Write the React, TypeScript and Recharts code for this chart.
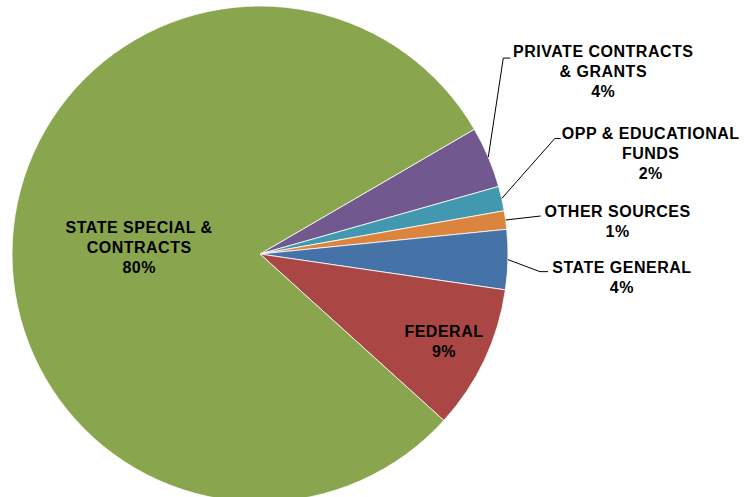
import { PieChart, Pie, Cell } from 'recharts';

const categories = [
  'PRIVATE CONTRACTS\n& GRANTS',
  'OPP & EDUCATIONAL\nFUNDS',
  'OTHER SOURCES',
  'STATE GENERAL',
  'FEDERAL',
  'STATE SPECIAL &\nCONTRACTS',
];
const shares = [4.0, 1.6, 1.2, 3.9, 9.4, 79.9];
const colors = ['#71588F', '#4198AF', '#DB843D', '#4572A7', '#AA4643', '#89A54E'];

const data = categories.map((name, i) => ({ name, value: shares[i] }));

// label placement, offsets in px from the slice's outer edge point (outside) or radius factor (inside)
const labelLayout: any[] = [
  { elbow: [15, -99], end: [22, -99], text: [115, -100] },
  { elbow: [53, -60], end: [59, -60], text: [149, -60] },
  { elbow: [35, -4], end: [35, -4], text: [112, -3] },
  { elbow: [32, 12], end: [40, 12], text: [114, 13] },
  { inside: 0.82, dy: 0 },
  { inside: 0.49, dy: 6 },
];

const RADIAN = Math.PI / 180;
const LINE_H = 20;
const textStyle = {
  fontFamily: '"Liberation Sans", Arial, sans-serif',
  fontWeight: 700,
  fontSize: 16,
  letterSpacing: 0.5,
};

const renderLabel = (props: any) => {
  const { cx, cy, midAngle, outerRadius, index, percent } = props;
  const layout = labelLayout[index];
  const lines = [...categories[index].split('\n'), `${Math.round(percent * 100)}%`];
  const cos = Math.cos(-midAngle * RADIAN);
  const sin = Math.sin(-midAngle * RADIAN);

  if (layout.inside) {
    const r = outerRadius * layout.inside;
    const x = cx + r * cos;
    const y = cy + r * sin + layout.dy;
    const first = y - ((lines.length - 1) * LINE_H) / 2 + 6;
    return (
      <text key={`l-${index}`} x={x} textAnchor="middle" fill="#000" style={textStyle}>
        {lines.map((t, i) => (
          <tspan key={i} x={x} y={first + i * LINE_H}>{t}</tspan>
        ))}
      </text>
    );
  }

  const ax = cx + outerRadius * cos;
  const ay = cy + outerRadius * sin;
  const tx = ax + layout.text[0];
  const ty = ay + layout.text[1];
  return (
    <g key={`l-${index}`}>
      <polyline
        points={`${ax},${ay} ${ax + layout.elbow[0]},${ay + layout.elbow[1]} ${ax + layout.end[0]},${ay + layout.end[1]}`}
        fill="none"
        stroke="#000"
        strokeWidth={1}
      />
      <text x={tx} textAnchor="middle" fill="#000" style={textStyle}>
        {lines.map((t, i) => (
          <tspan key={i} x={tx} y={ty + i * LINE_H}>{t}</tspan>
        ))}
      </text>
    </g>
  );
};

export default function App() {
  return (
    <div style={{ position: 'absolute', left: 0, top: 0, width: 744, height: 497, background: '#fff' }}>
      <PieChart width={744} height={497} margin={{ top: 0, right: 0, bottom: 0, left: 0 }}>
        <Pie
          data={data}
          dataKey="value"
          nameKey="name"
          cx={260}
          cy={254}
          outerRadius={248}
          startAngle={30.2}
          endAngle={-329.8}
          stroke="#ffffff"
          strokeWidth={0.8}
          label={renderLabel}
          labelLine={false}
          isAnimationActive={false}
        >
          {data.map((d, i) => (
            <Cell key={d.name} fill={colors[i]} />
          ))}
        </Pie>
      </PieChart>
    </div>
  );
}
